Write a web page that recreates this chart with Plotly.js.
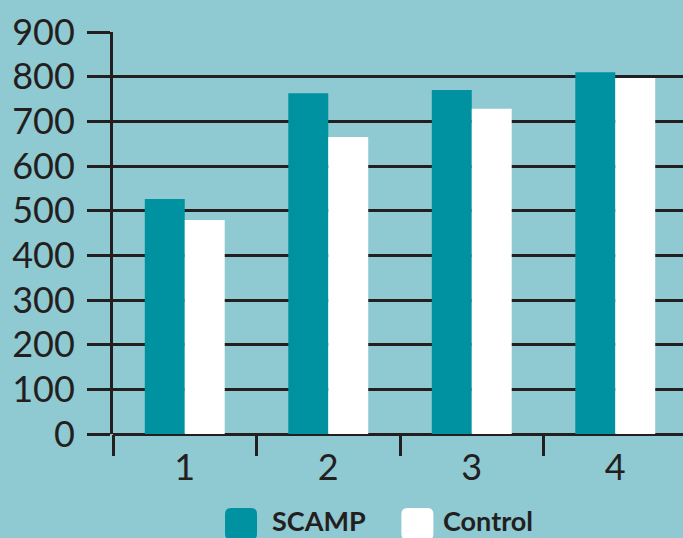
<!DOCTYPE html>
<html>
<head>
<meta charset="utf-8">
<script src="https://cdn.plot.ly/plotly-3.0.1.min.js"></script>
<style>html,body{margin:0;padding:0;background:#8fc9d1;}#chart{width:683px;height:538px;}</style>
</head>
<body>
<div id="chart"></div>
<script>
const categories = ['1', '2', '3', '4'];
const seriesNames = ['SCAMP', 'Control'];
const scampValues = [526, 763, 770, 810];
const controlValues = [479, 665, 728, 797];
const yTickValues = [0, 100, 200, 300, 400, 500, 600, 700, 800, 900];

const BG = '#8fc9d1';
const TEAL = '#0092a0';
const WHITE = '#ffffff';
const INK = '#231f20';

const traces = [
  {type: 'bar', name: seriesNames[0], x: categories, y: scampValues,
   marker: {color: TEAL, line: {width: 0}}, hoverinfo: 'skip'},
  {type: 'bar', name: seriesNames[1], x: categories, y: controlValues,
   marker: {color: WHITE, line: {width: 0}}, hoverinfo: 'skip'}
];

const roundSq = 'M-10,-16 L10,-16 Q16,-16 16,-10 L16,10 Q16,16 10,16 L-10,16 Q-16,16 -16,10 L-16,-10 Q-16,-16 -10,-16 Z';
const legendColors = [TEAL, WHITE];
const legendSymX = [0.2246, 0.534];
const legendTextX = [0.2772, 0.5772];
const legendSymY = -0.224;
const legendTextY = -0.2587;

const shapes = legendColors.map((c, i) => ({
  type: 'path', xref: 'paper', yref: 'paper',
  xsizemode: 'pixel', ysizemode: 'pixel',
  xanchor: legendSymX[i], yanchor: legendSymY,
  path: roundSq, fillcolor: c, line: {width: 0}
}));
const annotations = seriesNames.map((n, i) => ({
  text: '<b>' + n + '</b>', xref: 'paper', yref: 'paper',
  x: legendTextX[i], y: legendTextY, xanchor: 'left', yanchor: 'bottom',
  borderpad: 0,
  showarrow: false, font: {family: 'Lato, sans-serif', size: 27, color: INK}
}));

const layout = {
  width: 683, height: 538,
  margin: {l: 113, r: 0, t: 32, b: 104, pad: 0},
  paper_bgcolor: BG, plot_bgcolor: BG,
  showlegend: false,
  barmode: 'group', bargap: 0.443, bargroupgap: 0,
  font: {family: 'Lato, sans-serif', color: INK},
  xaxis: {
    type: 'category', range: [-0.5, 3.472],
    tickson: 'boundaries', ticks: 'outside', ticklen: 21, tickwidth: 3, tickcolor: INK,
    showgrid: false, showline: false, zeroline: false,
    ticklabelstandoff: 9,
    tickfont: {family: 'Lato, sans-serif', size: 36, color: INK}
  },
  yaxis: {
    range: [0, 900], tickmode: 'array', tickvals: yTickValues,
    ticks: 'outside', ticklen: 23, tickwidth: 3, tickcolor: INK,
    showgrid: true, gridcolor: INK, gridwidth: 3,
    zeroline: true, zerolinecolor: INK, zerolinewidth: 3,
    showline: true, linecolor: INK, linewidth: 3,
    ticklabelstandoff: 5,
    tickfont: {family: 'Lato, sans-serif', size: 36, color: INK}
  },
  shapes: shapes,
  annotations: annotations
};

Plotly.newPlot('chart', traces, layout, {displayModeBar: false, staticPlot: true});
</script>
</body>
</html>
